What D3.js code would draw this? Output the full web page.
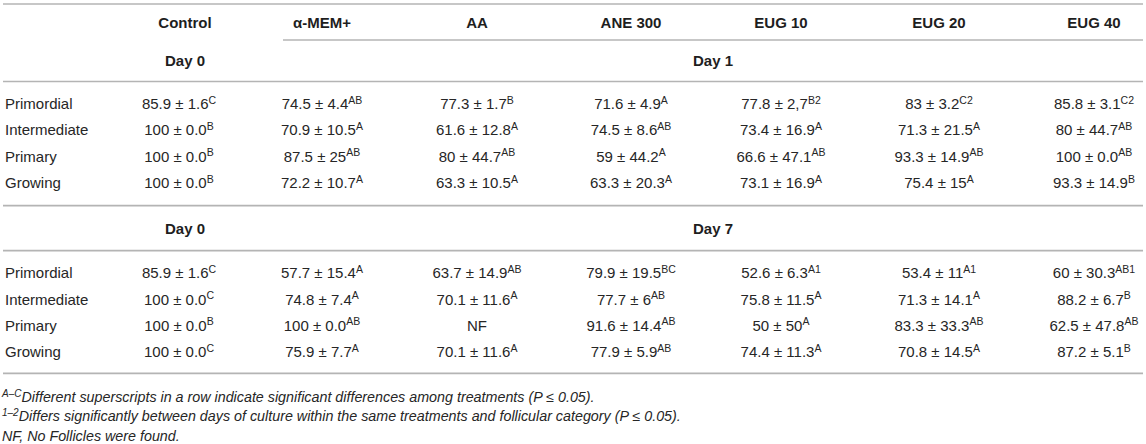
<!DOCTYPE html>
<html>
<head>
<meta charset="utf-8">
<script src="https://cdn.jsdelivr.net/npm/d3@7"></script>
<style>
  body { margin: 0; background: #fff; }
  svg { display: block; font-family: "Liberation Sans", Arial, Helvetica, sans-serif; }
  .head { font-weight: bold; font-size: 15px; fill: #1e1e1e; }
  .cell { font-size: 15px; fill: #262626; }
  .note { font-size: 14.3px; font-style: italic; fill: #262626; }
  .rule { stroke: #b4b4b4; stroke-width: 1.7; }
</style>
</head>
<body>
<svg id="table" width="1146" height="444"></svg>
<script>
// ---- data ----
var treatments = ["Control", "α-MEM+", "AA", "ANE 300", "EUG 10", "EUG 20", "EUG 40"];
var categories = ["Primordial", "Intermediate", "Primary", "Growing"];

var day1Mean = [
    ["85.9", "74.5", "77.3", "71.6", "77.8", "83", "85.8"],
    ["100", "70.9", "61.6", "74.5", "73.4", "71.3", "80"],
    ["100", "87.5", "80", "59", "66.6", "93.3", "100"],
    ["100", "72.2", "63.3", "63.3", "73.1", "75.4", "93.3"]
];
var day1Sd = [
    ["1.6", "4.4", "1.7", "4.9", "2,7", "3.2", "3.1"],
    ["0.0", "10.5", "12.8", "8.6", "16.9", "21.5", "44.7"],
    ["0.0", "25", "44.7", "44.2", "47.1", "14.9", "0.0"],
    ["0.0", "10.7", "10.5", "20.3", "16.9", "15", "14.9"]
];
var day1Sup = [
    ["C", "AB", "B", "A", "B2", "C2", "C2"],
    ["B", "A", "A", "AB", "A", "A", "AB"],
    ["B", "AB", "AB", "A", "AB", "AB", "AB"],
    ["B", "A", "A", "A", "A", "A", "B"]
];

var day7Mean = [
    ["85.9", "57.7", "63.7", "79.9", "52.6", "53.4", "60"],
    ["100", "74.8", "70.1", "77.7", "75.8", "71.3", "88.2"],
    ["100", "100", null, "91.6", "50", "83.3", "62.5"],
    ["100", "75.9", "70.1", "77.9", "74.4", "70.8", "87.2"]
];
var day7Sd = [
    ["1.6", "15.4", "14.9", "19.5", "6.3", "11", "30.3"],
    ["0.0", "7.4", "11.6", "6", "11.5", "14.1", "6.7"],
    ["0.0", "0.0", null, "14.4", "50", "33.3", "47.8"],
    ["0.0", "7.7", "11.6", "5.9", "11.3", "14.5", "5.1"]
];
var day7Sup = [
    ["C", "A", "AB", "BC", "A1", "A1", "AB1"],
    ["C", "A", "A", "AB", "A", "A", "B"],
    ["B", "AB", null, "AB", "A", "AB", "AB"],
    ["C", "A", "A", "AB", "A", "A", "B"]
];

var footnotes = [
    { sup: "A–C", text: "Different superscripts in a row indicate significant differences among treatments (P ≤ 0.05)." },
    { sup: "1–2", text: "Differs significantly between days of culture within the same treatments and follicular category (P ≤ 0.05)." },
    { sup: null, text: "NF, No Follicles were found." }
];

// ---- layout ----
var svg = d3.select("#table");
var left = 3, right = 1143, spanLeft = 283;
var rowStep = 26.3;

var colX = d3.scaleOrdinal()
    .domain(treatments)
    .range([185, 322, 477, 631, 781, 939, 1094]);
// control values sit slightly left of their header
var valueShift = { "Control": -6 };

function rule(y, x0) {
    svg.append("line").attr("class", "rule")
        .attr("x1", x0 === undefined ? left : x0).attr("x2", right)
        .attr("y1", y).attr("y2", y);
}

// dayTop: y of the rule above the "Day" row, dayH: height of that row
// returns y just below the data rows
function block(dayLabel, means, sds, sups, dayTop, dayH) {
    var labelY = dayTop + dayH / 2 + 5.5;
    svg.append("text").attr("class", "head")
        .attr("x", colX("Control")).attr("y", labelY)
        .attr("text-anchor", "middle").text("Day 0");
    svg.append("text").attr("class", "head")
        .attr("x", (spanLeft + right) / 2).attr("y", labelY)
        .attr("text-anchor", "middle").text(dayLabel);

    var ruleY = dayTop + dayH;
    rule(ruleY);

    var y = d3.scaleBand()
        .domain(categories)
        .range([ruleY + 9, ruleY + 9 + categories.length * rowStep]);

    var rows = svg.selectAll(null).data(categories).enter()
        .append("g")
        .attr("transform", d => "translate(0," + (y(d) + y.bandwidth() / 2 + 5.5) + ")");

    rows.append("text").attr("class", "cell")
        .attr("x", 5).text(d => d);

    rows.each(function (cat, i) {
        var g = d3.select(this);
        treatments.forEach(function (t, j) {
            var txt = g.append("text").attr("class", "cell")
                .attr("x", colX(t) + (valueShift[t] || 0))
                .attr("text-anchor", "middle");
            if (means[i][j] === null) {
                txt.text("NF");
                return;
            }
            txt.append("tspan").text(means[i][j] + " ± " + sds[i][j]);
            txt.append("tspan")
                .attr("font-size", "10.5px")
                .attr("dy", -5.5)
                .text(sups[i][j]);
        });
    });
    return ruleY + 9 + categories.length * rowStep + 10;
}

// header row
rule(4);
svg.selectAll(null).data(treatments).enter()
    .append("text").attr("class", "head")
    .attr("x", d => colX(d)).attr("y", 27.5)
    .attr("text-anchor", "middle")
    .text(d => d);
rule(40, spanLeft);

var next = block("Day 1", day1Mean, day1Sd, day1Sup, 40, 41.5);
rule(next);
next = block("Day 7", day7Mean, day7Sd, day7Sup, next, 45);
rule(next - 1.5);

// ---- footnotes ----
svg.selectAll(null).data(footnotes).enter()
    .append("text").attr("class", "note")
    .attr("x", 2)
    .attr("y", (d, i) => next + 27 + i * 19.5)
    .each(function (d) {
        var t = d3.select(this);
        if (d.sup) {
            t.append("tspan").attr("font-size", "10px").attr("dy", -5).text(d.sup);
            t.append("tspan").attr("dy", 5).text(d.text);
        } else {
            t.text(d.text);
        }
    });
</script>
</body>
</html>
